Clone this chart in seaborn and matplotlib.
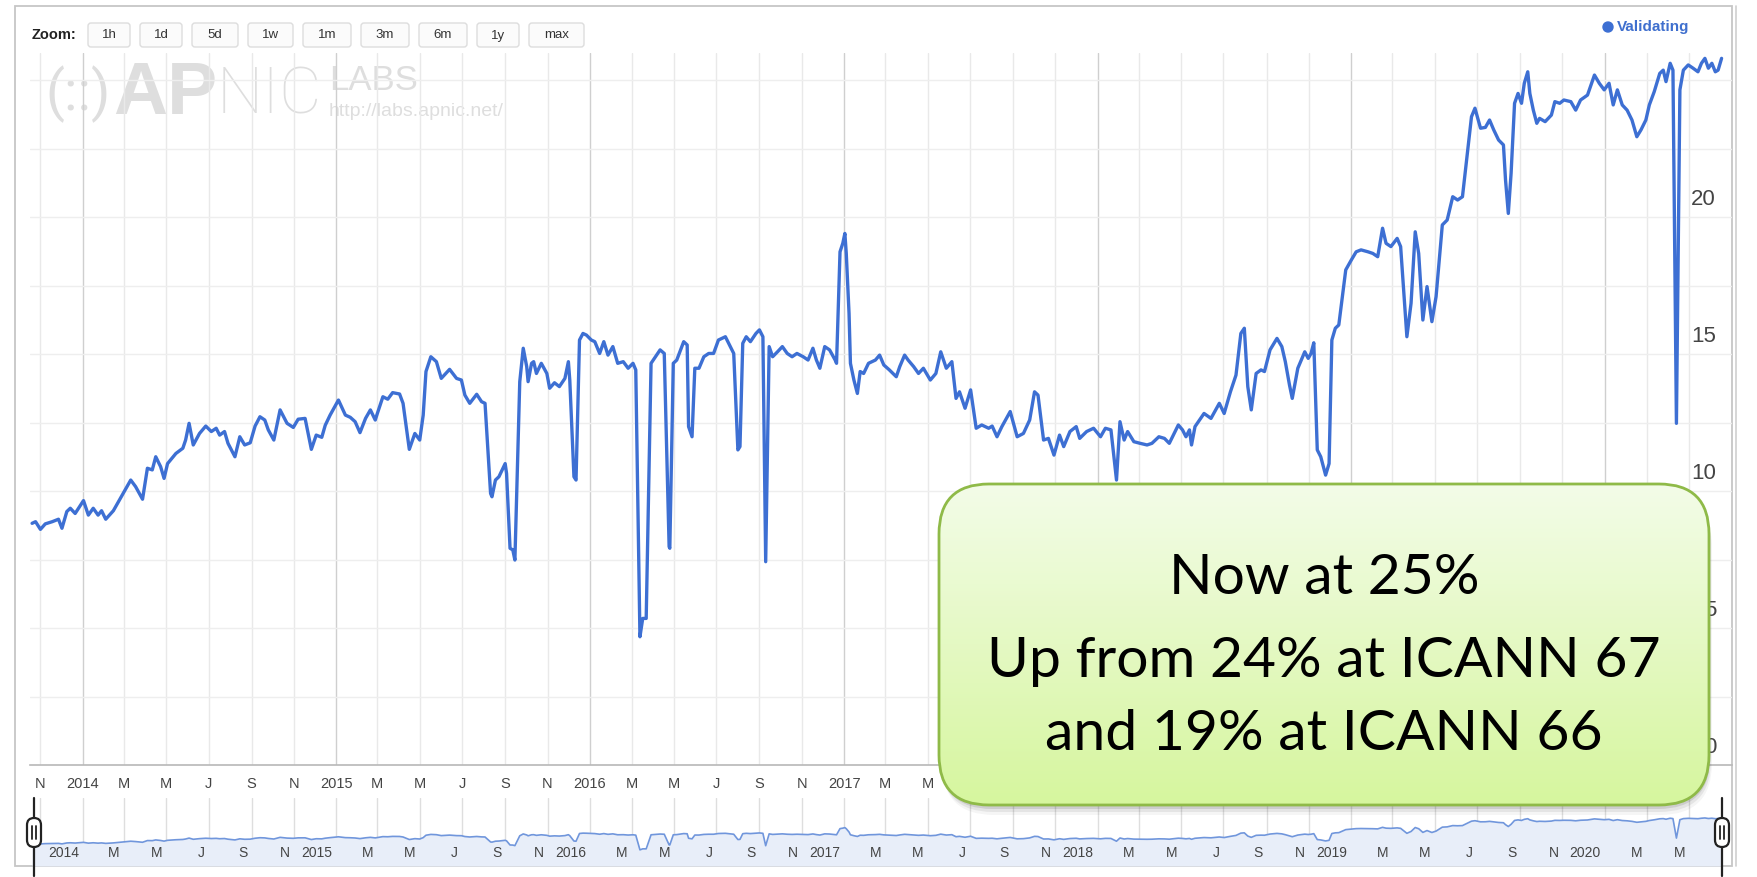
import numpy as np
import pandas as pd
import matplotlib
matplotlib.use("Agg")
import matplotlib.pyplot as plt
import matplotlib.transforms as mtransforms
from matplotlib.patches import FancyBboxPatch, Rectangle, Circle
import seaborn as sns

# DNSSEC validating share (%)
dates = [
    "2013-10-20", "2013-10-25", "2013-11-01", "2013-11-08", "2013-11-18", "2013-11-27", "2013-12-02",
    "2013-12-09", "2013-12-14", "2013-12-21", "2014-01-02", "2014-01-09", "2014-01-16", "2014-01-23",
    "2014-01-28", "2014-02-03", "2014-02-14", "2014-02-24", "2014-03-11", "2014-03-18", "2014-03-28",
    "2014-04-04", "2014-04-11", "2014-04-16", "2014-04-23", "2014-04-28", "2014-05-03", "2014-05-15",
    "2014-05-25", "2014-05-29", "2014-06-03", "2014-06-09", "2014-06-18", "2014-06-27", "2014-07-05",
    "2014-07-12", "2014-07-17", "2014-07-24", "2014-07-29", "2014-08-08", "2014-08-15", "2014-08-22",
    "2014-08-30", "2014-09-06", "2014-09-13", "2014-09-20", "2014-09-25", "2014-10-03", "2014-10-12",
    "2014-10-22", "2014-10-31", "2014-11-07", "2014-11-17", "2014-11-26", "2014-12-03", "2014-12-11",
    "2014-12-16", "2014-12-23", "2015-01-04", "2015-01-14", "2015-01-21", "2015-01-28", "2015-02-04",
    "2015-02-12", "2015-02-19", "2015-02-26", "2015-03-01", "2015-03-09", "2015-03-16", "2015-03-23",
    "2015-04-02", "2015-04-07", "2015-04-16", "2015-04-24", "2015-05-01", "2015-05-06", "2015-05-10",
    "2015-05-17", "2015-05-25", "2015-06-01", "2015-06-13", "2015-06-23", "2015-06-30", "2015-07-05",
    "2015-07-12", "2015-07-22", "2015-07-29", "2015-08-03",
    "2015-08-11", "2015-08-13", "2015-08-18", "2015-08-23", "2015-09-01", "2015-09-03", "2015-09-08",
    "2015-09-12", "2015-09-15", "2015-09-22", "2015-09-27", "2015-10-02", "2015-10-04", "2015-10-09",
    "2015-10-12", "2015-10-16", "2015-10-23", "2015-10-31", "2015-11-04", "2015-11-11", "2015-11-18",
    "2015-11-26", "2015-12-01", "2015-12-03", "2015-12-09", "2015-12-12", "2015-12-17", "2015-12-22",
    "2015-12-27", "2016-01-03", "2016-01-08", "2016-01-15", "2016-01-21", "2016-01-27", "2016-02-03",
    "2016-02-10", "2016-02-18", "2016-02-25", "2016-03-03", "2016-03-07", "2016-03-13", "2016-03-17",
    "2016-03-22", "2016-03-29", "2016-04-06", "2016-04-11", "2016-04-17", "2016-04-24", "2016-04-25",
    "2016-04-30", "2016-05-05", "2016-05-15", "2016-05-20", "2016-05-22", "2016-05-27", "2016-05-31",
    "2016-06-06", "2016-06-13", "2016-06-20", "2016-06-27", "2016-07-04", "2016-07-14", "2016-07-21",
    "2016-07-26", "2016-08-01", "2016-08-04", "2016-08-08", "2016-08-13", "2016-08-19", "2016-08-27",
    "2016-09-01", "2016-09-06", "2016-09-10", "2016-09-15", "2016-09-20", "2016-09-27", "2016-10-04",
    "2016-10-11", "2016-10-18", "2016-10-25", "2016-11-03", "2016-11-10", "2016-11-17", "2016-11-22",
    "2016-11-27", "2016-12-04", "2016-12-11", "2016-12-19", "2016-12-21", "2016-12-26", "2016-12-30",
    "2017-01-02", "2017-01-04", "2017-01-08", "2017-01-10", "2017-01-15", "2017-01-20", "2017-01-24",
    "2017-01-29", "2017-02-05", "2017-02-15", "2017-02-21", "2017-02-27", "2017-03-07", "2017-03-17",
    "2017-03-22",
    "2017-03-29", "2017-04-03", "2017-04-11", "2017-04-18", "2017-04-25", "2017-05-05", "2017-05-13",
    "2017-05-20", "2017-05-28", "2017-06-05", "2017-06-11", "2017-06-16", "2017-06-24", "2017-07-02",
    "2017-07-10", "2017-07-18", "2017-07-28", "2017-08-02", "2017-08-09", "2017-08-16", "2017-08-28",
    "2017-09-07", "2017-09-16", "2017-09-25", "2017-10-02", "2017-10-07", "2017-10-15", "2017-10-22",
    "2017-10-30", "2017-11-07", "2017-11-13", "2017-11-22", "2017-12-01", "2017-12-06", "2017-12-16",
    "2017-12-26", "2018-01-05", "2018-01-12", "2018-01-20", "2018-01-28", "2018-02-02", "2018-02-08",
    "2018-02-13", "2018-02-22", "2018-03-03", "2018-03-13", "2018-03-20", "2018-03-30", "2018-04-07",
    "2018-04-14", "2018-04-27", "2018-05-03", "2018-05-08", "2018-05-13", "2018-05-16", "2018-05-21",
    "2018-06-03", "2018-06-13", "2018-06-25", "2018-07-02", "2018-07-11", "2018-07-19", "2018-07-26",
    "2018-07-31", "2018-08-05", "2018-08-10", "2018-08-17", "2018-08-24", "2018-08-29", "2018-09-06",
    "2018-09-16", "2018-09-23", "2018-09-28", "2018-10-04", "2018-10-08", "2018-10-16", "2018-10-26",
    "2018-10-31", "2018-11-04", "2018-11-08", "2018-11-13", "2018-11-18", "2018-11-25", "2018-11-30",
    "2018-12-04", "2018-12-09", "2018-12-14",
    "2018-12-24", "2019-01-01", "2019-01-08", "2019-01-15", "2019-01-25", "2019-02-01", "2019-02-08",
    "2019-02-15", "2019-02-20", "2019-02-27", "2019-03-08", "2019-03-13", "2019-03-22", "2019-03-28",
    "2019-04-03", "2019-04-08", "2019-04-14", "2019-04-20", "2019-04-27", "2019-05-03", "2019-05-12",
    "2019-05-19", "2019-05-27", "2019-06-03", "2019-06-10", "2019-06-16", "2019-06-23", "2019-06-28",
    "2019-07-06", "2019-07-13", "2019-07-19", "2019-07-25", "2019-08-01", "2019-08-08", "2019-08-11",
    "2019-08-15", "2019-08-19", "2019-08-24", "2019-08-29", "2019-09-03", "2019-09-07", "2019-09-12",
    "2019-09-15", "2019-09-20", "2019-09-25", "2019-09-29", "2019-10-07", "2019-10-16", "2019-10-21",
    "2019-10-28", "2019-11-03", "2019-11-13", "2019-11-20", "2019-11-27", "2019-12-07", "2019-12-17",
    "2019-12-24", "2019-12-31", "2020-01-07", "2020-01-13", "2020-01-19", "2020-01-26", "2020-02-02",
    "2020-02-09", "2020-02-16", "2020-02-22", "2020-02-29", "2020-03-05", "2020-03-12", "2020-03-20",
    "2020-03-25", "2020-03-29", "2020-04-04", "2020-04-08", "2020-04-13", "2020-04-18", "2020-04-23",
    "2020-04-30", "2020-05-07", "2020-05-14", "2020-05-19", "2020-05-24", "2020-05-29", "2020-06-03",
    "2020-06-08", "2020-06-12", "2020-06-17",
]
validating = [
    8.82, 8.88, 8.60, 8.80, 8.88, 8.97, 8.64,
    9.25, 9.37, 9.18, 9.65, 9.12, 9.37, 9.12,
    9.28, 8.97, 9.28, 9.73, 10.40, 10.16, 9.70,
    10.83, 10.77, 11.25, 10.89, 10.46, 11.00, 11.37,
    11.56, 11.86, 12.47, 11.68, 12.10, 12.37, 12.17,
    12.29, 12.04, 12.17, 11.74, 11.25, 11.98, 11.68,
    11.76, 12.37, 12.71, 12.59, 12.23, 11.86, 12.96,
    12.47, 12.32, 12.62, 12.65, 11.52, 12.04, 11.96,
    12.40, 12.77, 13.32, 12.77, 12.69, 12.53, 12.13,
    12.65, 12.96, 12.59, 12.83, 13.44, 13.35, 13.59,
    13.54, 13.20, 11.52, 12.10, 11.86, 12.77, 14.36,
    14.90, 14.72, 14.11, 14.44, 14.11, 14.05, 13.50,
    13.20, 13.53, 13.26, 13.20,
    9.91, 9.79, 10.40, 10.52, 11.00, 10.64, 7.91,
    7.85, 7.48, 13.99, 15.21, 14.54, 13.99, 14.66,
    14.72, 14.29, 14.66, 14.29, 13.75, 13.95, 13.81,
    14.11, 14.72, 14.05, 10.52, 10.40, 15.51, 15.75,
    15.69, 15.51, 15.45, 15.02, 15.45, 14.96, 15.27,
    14.66, 14.72, 14.48, 14.66, 14.42, 4.68, 5.35,
    5.35, 14.66, 14.96, 15.15, 15.02, 7.97, 7.91,
    14.66, 14.78, 15.45, 15.33, 12.35, 11.98, 14.48,
    14.48, 14.90, 15.02, 15.02, 15.51, 15.63, 15.27,
    15.02, 11.50, 11.62, 15.39, 15.63, 15.45, 15.75,
    15.88, 15.63, 7.42, 15.27, 14.90, 15.08, 15.27,
    15.02, 14.90, 15.02, 14.90, 14.78, 15.21, 14.78,
    14.48, 15.27, 15.15, 14.78, 14.66, 18.73, 19.04,
    19.40, 18.67, 16.48, 14.66, 14.05, 13.56, 14.36,
    14.29, 14.66, 14.78, 14.96, 14.60, 14.42, 14.17,
    14.54,
    14.96, 14.78, 14.54, 14.29, 14.48, 14.05, 14.29,
    15.08, 14.48, 14.72, 13.38, 13.62, 13.02, 13.69,
    12.29, 12.41, 12.29, 12.37, 11.98, 12.35, 12.90,
    11.98, 12.10, 12.59, 13.62, 13.50, 11.86, 11.92,
    11.31, 12.04, 11.62, 12.17, 12.35, 11.92, 12.17,
    12.29, 11.98, 12.29, 12.23, 10.40, 12.53, 11.86,
    12.17, 11.80, 11.74, 11.68, 11.74, 11.98, 11.92,
    11.74, 12.41, 12.23, 11.98, 12.23, 11.68, 12.35,
    12.83, 12.65, 13.20, 12.83, 13.62, 14.23, 15.75,
    15.94, 13.81, 12.96, 14.29, 14.42, 14.36, 15.15,
    15.57, 15.27, 14.72, 13.87, 13.38, 14.48, 15.08,
    14.84, 15.02, 15.41, 11.50, 11.25, 10.58, 11.00,
    15.51, 15.94, 16.06,
    18.07, 18.43, 18.73, 18.80, 18.73, 18.67, 18.55,
    19.59, 19.04, 18.92, 19.22, 18.92, 15.63, 16.85,
    19.46, 18.67, 16.24, 17.46, 16.18, 17.09, 19.71,
    19.89, 20.74, 20.62, 20.74, 22.08, 23.66, 23.97,
    23.24, 23.27, 23.54, 23.18, 22.81, 22.63, 21.35,
    20.13, 21.59, 24.15, 24.51, 24.15, 24.88, 25.30,
    24.51, 23.90, 23.42, 23.60, 23.48, 23.72, 24.21,
    24.15, 24.27, 24.21, 23.90, 24.27, 24.45, 25.18,
    24.88, 24.64, 24.88, 24.09, 24.64, 24.09, 23.90,
    23.54, 22.93, 23.18, 23.54, 24.09, 24.57, 25.24,
    25.36, 24.94, 25.61, 25.36, 12.47, 24.64, 25.36,
    25.55, 25.43, 25.30, 25.61, 25.79, 25.43, 25.61,
    25.30, 25.36, 25.79,
]

zoom_buttons = ["1h", "1d", "5d", "1w", "1m", "3m", "6m", "1y", "max"]
y_labels = [0, 5, 10, 15, 20]
month_letters = {3: "M", 5: "M", 7: "J", 9: "S", 11: "N"}
series_name = "Validating"
callout_lines = ["Now at 25%", "Up from 24% at ICANN 67", "and 19% at ICANN 66"]

df = pd.DataFrame({"date": pd.to_datetime(dates), "pct": validating})

W, H = 1757, 877
LINE = "#3d6fd3"

sns.set_theme(style="white")
plt.rcParams["font.family"] = ["Liberation Sans", "DejaVu Sans"]

fig = plt.figure(figsize=(W / 100, H / 100), dpi=100)


def box(x0, y0, x1, y1):
    # pixel box -> figure fraction rect
    return [x0 / W, 1 - y1 / H, (x1 - x0) / W, (y1 - y0) / H]


# background layer: frame, zoom buttons, watermark
base = fig.add_axes([0, 0, 1, 1], zorder=0)
base.set_xlim(0, W)
base.set_ylim(H, 0)
base.axis("off")
base.add_patch(Rectangle((15, 6), 1717, 860, fc="white", ec="#c6c6c6", lw=1.3))
base.plot([1736, 1736], [6, 866], color="#d0d0d0", lw=1.2)

base.text(32, 35, "Zoom:", fontsize=10.5, fontweight="bold", color="#222", va="center")
btn_w = [42, 42, 46, 45, 48, 48, 48, 42, 55]
bx = 88
for lab, w in zip(zoom_buttons, btn_w):
    base.add_patch(FancyBboxPatch((bx, 23), w, 24, boxstyle="round,pad=0,rounding_size=3",
                                  fc="#fbfbfb", ec="#dddddd", lw=1))
    base.text(bx + w / 2, 35.5, lab, fontsize=9.5, color="#333", ha="center", va="center")
    bx += w + 10

wm = "#dedede"
base.text(45, 94, "(::)", fontsize=40, color=wm, va="center", family=["Roboto", "DejaVu Sans"])
base.text(113, 94, "AP", fontsize=54, color=wm, va="center", fontweight="bold",
          family=["Liberation Sans", "DejaVu Sans"])
base.text(217, 96, "NIC", fontsize=47, color=wm, va="center", fontweight="light",
          family=["Roboto", "DejaVu Sans"])
base.text(329, 81, "LABS", fontsize=25, color=wm, va="center")
base.text(329, 111, "http://labs.apnic.net/", fontsize=14, color=wm, va="center")

base.add_patch(Circle((1608, 27), 5, color=LINE))
base.text(1617, 27.5, series_name, fontsize=11, fontweight="bold", color="#3f6fce", va="center")

# main chart
x_start, x_end = pd.Timestamp("2013-10-17"), pd.Timestamp("2020-07-02")
month_ticks = pd.date_range("2013-11-01", "2020-05-01", freq="2MS")

ax = fig.add_axes(box(30, 52.6, 1732, 765), zorder=2)
ax.patch.set_alpha(0)
for t in month_ticks:
    ax.axvline(t, color="#cfcfcf" if t.month == 1 else "#e9e9e9", lw=1, zorder=0)
for v in np.arange(2.5, 26, 2.5):
    ax.axhline(v, color="#eeeeee", lw=1, zorder=0)
sns.lineplot(data=df, x="date", y="pct", ax=ax, color=LINE, lw=2.4, legend=False, zorder=3)
ax.set_xlim(x_start, x_end)
ax.set_ylim(0, 26)
ax.set_xlabel("")
ax.set_ylabel("")
for s in ["top", "left", "right"]:
    ax.spines[s].set_visible(False)
ax.spines["bottom"].set_color("#b8b8b8")
ax.spines["bottom"].set_linewidth(1.2)
ax.set_xticks(month_ticks)
ax.set_xticklabels([str(t.year) if t.month == 1 else month_letters[t.month] for t in month_ticks])
ax.tick_params(axis="x", length=0, pad=9, labelsize=10.5, labelcolor="#444")
ax.set_yticks([])

ylab_tr = mtransforms.offset_copy(mtransforms.blended_transform_factory(ax.transAxes, ax.transData),
                                  fig=fig, y=12, units="dots")
for v in y_labels:
    ax.text(0.9906, v, str(v), transform=ylab_tr, ha="right", va="baseline",
            fontsize=16, color="#444")

# range navigator
nav = fig.add_axes(box(30, 798, 1732, 866), zorder=2)
nav.patch.set_alpha(0)
for t in month_ticks:
    nav.axvline(t, color="#dedede", lw=1, zorder=0)
nav.fill_between(df["date"], df["pct"], -6, color="#e8eef9", lw=0, zorder=1)
sns.lineplot(data=df, x="date", y="pct", ax=nav, color="#7096dc", lw=1.2, legend=False, zorder=2)
nav.set_xlim(x_start, x_end)
nav.set_ylim(-6, 39)
nav.axis("off")
nav_tr = mtransforms.offset_copy(mtransforms.blended_transform_factory(nav.transData, nav.transAxes),
                                 fig=fig, x=-4, units="dots")
for t in month_ticks[1:]:
    lab = str(t.year) if t.month == 1 else month_letters[t.month]
    nav.text(t, 0.19, lab, transform=nav_tr, ha="right", va="center", fontsize=10, color="#444")

# overlay: navigator handles and the callout
over = fig.add_axes([0, 0, 1, 1], zorder=10)
over.patch.set_alpha(0)
over.axis("off")
for hx in (34, 1722):
    over.plot([hx, hx], [798, 876], color="#222", lw=1.6)
    over.add_patch(FancyBboxPatch((hx - 7, 818), 14, 29, boxstyle="round,pad=0,rounding_size=7",
                                  fc="white", ec="#222", lw=1.6, zorder=5))
    for dx in (-2, 2):
        over.plot([hx + dx, hx + dx], [826, 839], color="#222", lw=1.3, zorder=6)

bx0, by0, bw, bh = 939, 484, 770, 321
for off, a in [(10, 0.06), (7, 0.10), (4, 0.16)]:
    over.add_patch(FancyBboxPatch((bx0 + off * 0.3, by0 + off), bw, bh,
                                  boxstyle="round,pad=0,rounding_size=52",
                                  fc="#555555", ec="none", alpha=a, zorder=7))
callout = FancyBboxPatch((bx0, by0), bw, bh, boxstyle="round,pad=0,rounding_size=50",
                         fc="none", ec="#8fba48", lw=2.0, zorder=9)
over.add_patch(callout)
top_c = np.array([243, 252, 232]) / 255
bot_c = np.array([214, 246, 158]) / 255
frac = np.linspace(0, 1, 256)[:, None, None]
grad = top_c * (1 - frac) + bot_c * frac
im = over.imshow(grad, extent=(bx0, bx0 + bw, by0 + bh, by0), origin="upper", aspect="auto", zorder=8)
im.set_clip_path(callout)

for yb, line in zip([594, 677, 750], callout_lines):
    over.text(bx0 + bw / 2, yb, line, ha="center", va="baseline", fontsize=41,
              color="black", family=["Lato", "DejaVu Sans"], zorder=10)

over.set_xlim(0, W)
over.set_ylim(H, 0)

fig.savefig("out.png", dpi=100)
